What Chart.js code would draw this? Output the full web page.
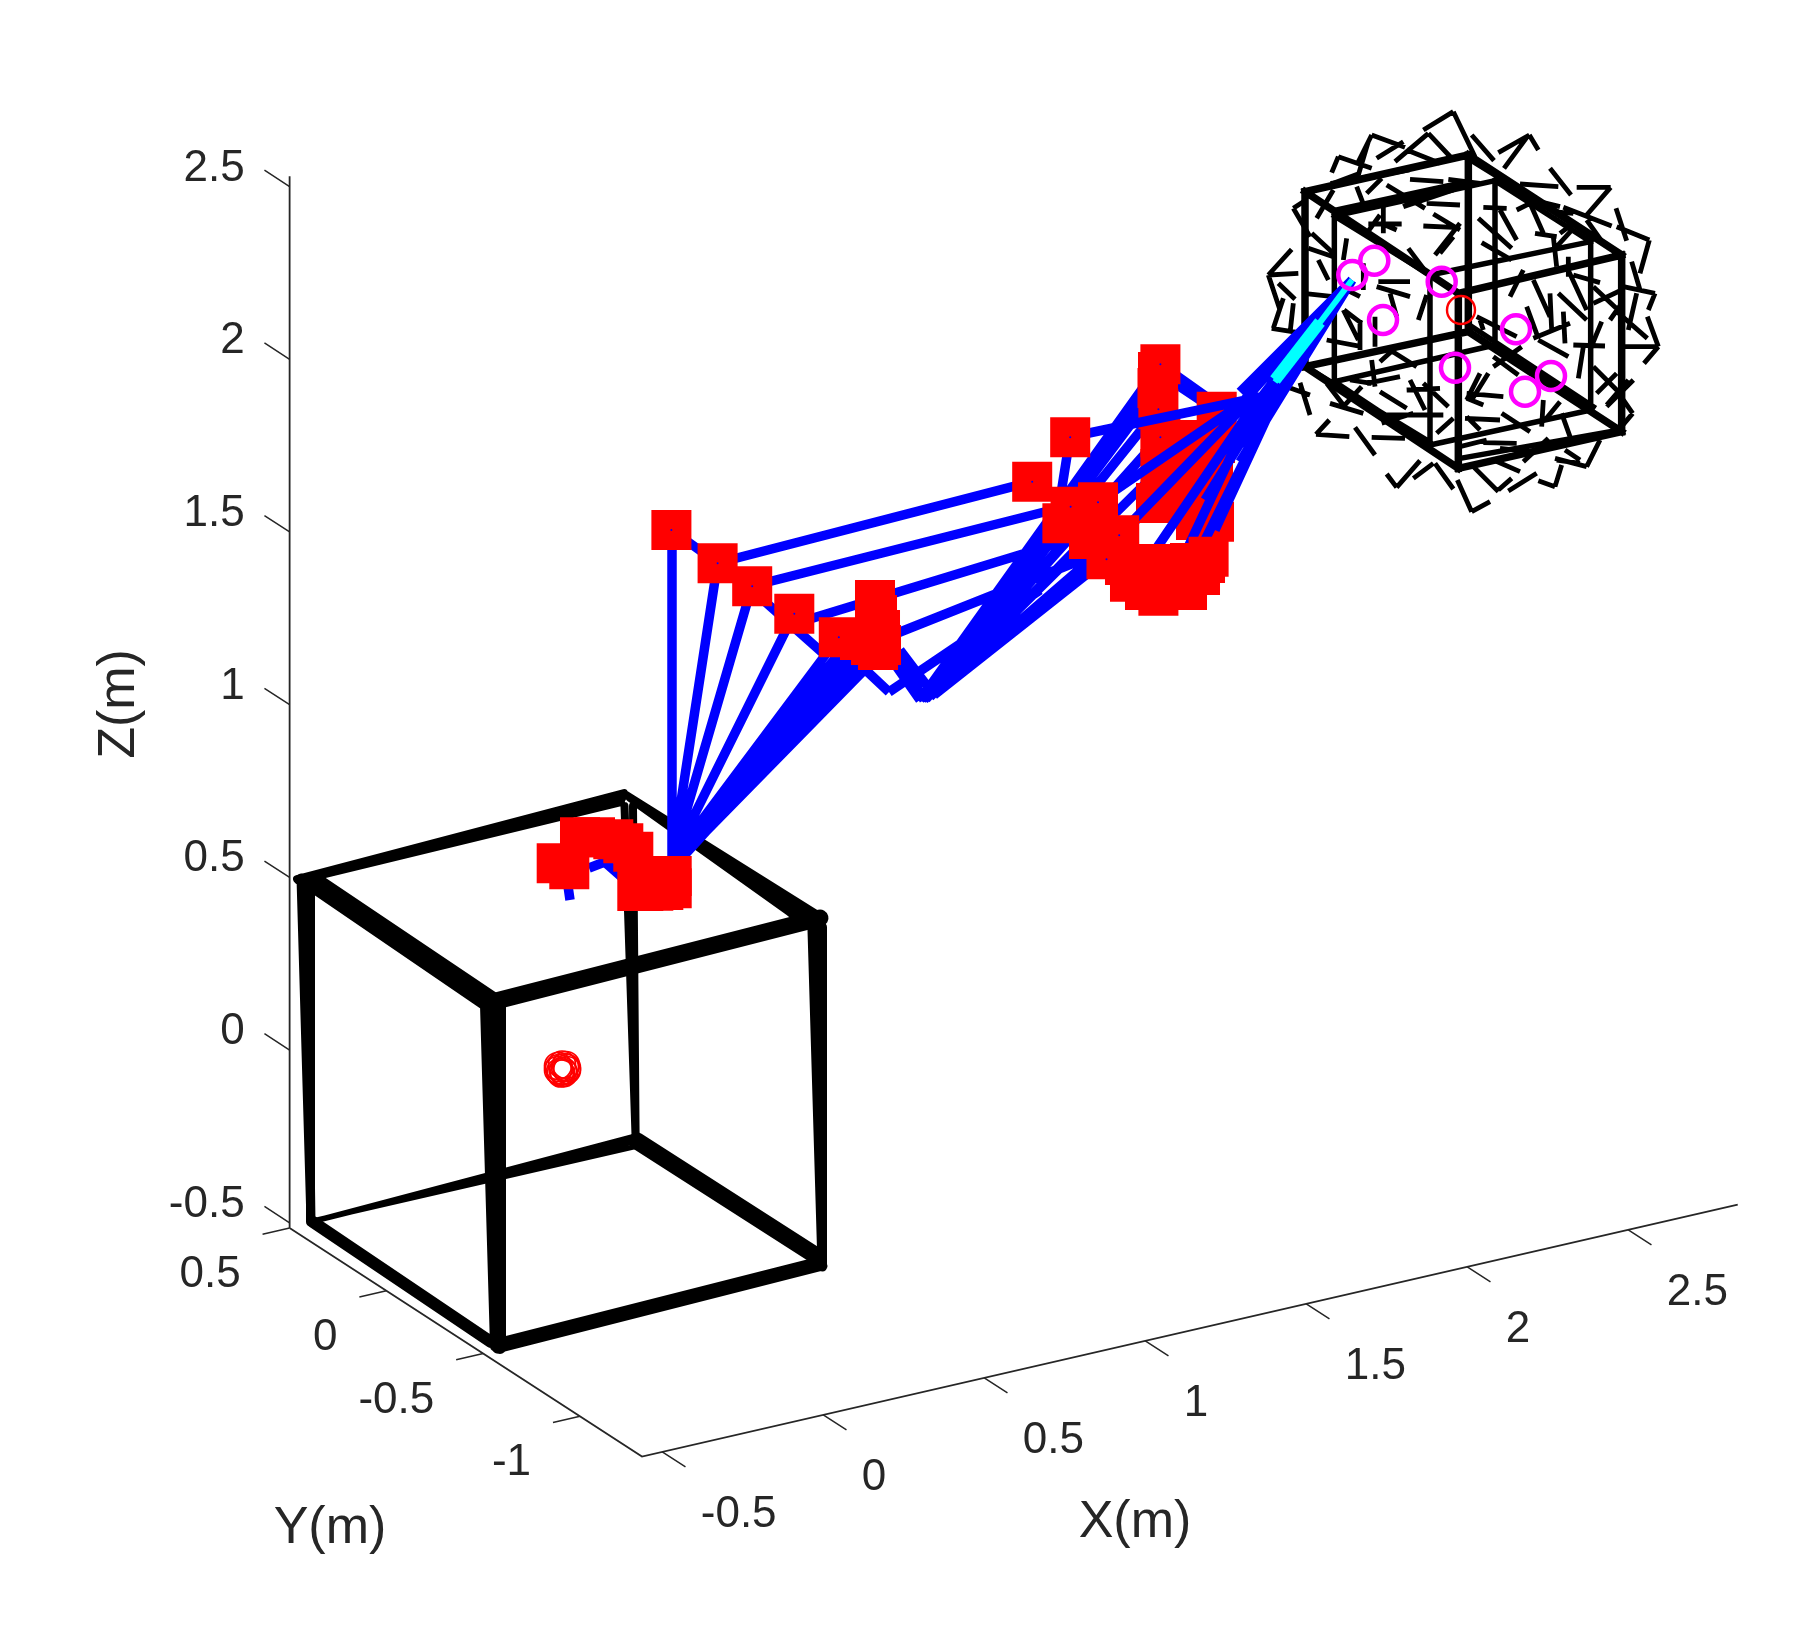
<!DOCTYPE html>
<html><head><meta charset="utf-8">
<style>html,body{margin:0;padding:0;background:#fff}canvas{display:block}</style>
<script src="https://cdn.jsdelivr.net/npm/chart.js@4"></script>
</head><body><canvas id="c" width="1804" height="1628"></canvas>
<script>
// ---- axis content (metres) ----
const xTicks = [-0.5, 0, 0.5, 1, 1.5, 2, 2.5];
const yTicks = [0.5, 0, -0.5, -1];
const zTicks = [-0.5, 0, 0.5, 1, 1.5, 2, 2.5];
const xLim = [-0.563, 2.84], yLim = [-1.32, 0.5], zLim = [-0.515, 2.53];
const xTitle = 'X(m)', yTitle = 'Y(m)', zTitle = 'Z(m)';

// ---- marks as read in the picture plane of the 3-D view: [x1,y1,x2,y2] ----
const cubeW8 = [[297,879,624,793],[300,880,621,802],[298,880,622,798],[624,793.7,816,914],[637,803.6,790,912.6],[790,912.6,815,930],[630,798,803,915],[624.5,806,635.5,1135],[633,806,635.6,1135]];
const cubeW12 = [[318,880,495,999],[303,880,483,1003],[310,880,489,1001],[500,1000,500,1348],[486,1005,496,1346],[493,1003,498,1347],[313,1222,491,1342]];
const cubeW17 = [[490,1002.5,820,918],[637,1141,818,1257]];
const cubeW9 = [[301,878,311,1222],[310.5,878,310.5,1222],[306,878,311,1222],[822.5,927,822.5,1267],[812,930,822,1266],[817,928,822,1266],[815,1262,500,1342],[823,1266,497,1349],[820,1265,497,1346]];
const cubeW5 = [[310,1222,635,1136],[312,1221,638,1146],[311,1222,636,1141]];

const sphereFrameOuter = [[195,305,685,195],[685,195,1145,495],[1145,495,655,610],[655,610,195,305],
  [195,830,685,725],[685,725,1145,1025],[1145,1025,655,1135],[655,1135,195,830],
  [195,305,195,830],[685,195,685,725],[1145,495,1145,1025],[655,610,655,1135]];
const sphereFrameInner = [[283,378,765,272],[765,272,1052,455],[1052,455,570,555],[570,555,283,378],
  [283,875,765,765],[765,765,1052,960],[1052,960,570,1065],[570,1065,283,875],
  [283,378,283,875],[765,272,765,765],[1052,455,1052,960],[570,555,570,1065],
  [280,280,500,240],[290,360,680,275],[700,215,1000,400],[230,850,560,1050],[660,1105,1140,1020],[680,700,1060,950]];
const sphereDashes = [[550,120,640,65],[640,65,705,200],[695,135,762,212],[775,188,868,135],[868,135,895,180],[862,140,792,235],[930,235,993,315],[840,282,955,290],[1010,292,1112,292],[1112,292,1040,375],[970,352,1115,408],[1128,355,1160,452],[1130,410,1228,450],[1228,450,1200,550],[1175,515,1200,600],[1150,590,1245,610],[1245,610,1225,660],[1190,610,1165,720],[1222,680,1255,770],[1255,770,1212,820],[1150,770,1255,770],[1222,745,1125,660],[1165,870,1100,945],[1150,930,1178,970],[1178,970,1140,1015],[1080,1050,1040,1130],[1040,1130,945,1105],[975,1080,1020,1110],[965,1125,945,1190],[945,1190,895,1172],[890,1150,805,1203],[925,1045,850,1115],[775,1205,700,1130],[840,1145,760,1110],[775,1200,815,1165],[750,1235,695,1265],[695,1265,652,1170],[640,1197,585,1120],[580,1120,520,1165],[540,1112,470,1192],[470,1192,440,1152],[405,1095,345,1012],[395,1042,495,1045],[328,1040,228,1033],[228,1033,268,990],[270,940,370,970],[180,878,210,975],[125,885,210,915],[100,715,130,625],[95,715,190,730],[160,640,150,730],[115,580,165,628],[85,555,120,660],[85,555,155,478],[85,555,175,550],[160,355,210,440],[160,355,190,335],[395,135,495,172],[395,135,350,225],[295,200,275,248],[295,200,395,235],[410,205,490,155],[465,215,565,130],[565,130,640,210],[500,180,600,220],
[510,268,610,275],[625,268,720,280],[560,340,660,345],[730,352,800,355],[550,408,640,412],[580,372,660,420],[660,400,585,495],[640,440,600,490],[725,458,815,510],[715,385,815,475],[440,285,555,355],[490,350,560,310],[430,340,430,430],[385,402,485,402],[435,405,470,420],[380,430,420,375],[320,445,310,510],[505,475,550,535],[370,520,370,600],[415,575,510,575],[410,590,510,620],[450,610,470,680],[560,615,535,690],[312,660,365,700],[310,660,355,750],[360,690,360,780],[405,680,405,770],[260,750,365,770],[235,510,265,570],[215,430,280,490],[205,475,280,500],[190,610,280,620],[300,590,360,620],[190,720,245,685],[780,360,830,450],[850,540,810,620],[880,570,930,680],[930,610,935,720],[955,610,1040,690],[980,530,1040,660],[985,500,985,560],[940,440,950,530],[885,430,950,440],[960,430,1000,400],[870,340,910,430],[830,360,870,340],[1000,555,1080,578],[1060,640,1145,600],[1110,690,1145,640],[1060,590,1140,665],[860,650,895,745],[880,745,990,700],[970,665,975,760],[895,750,985,800],[710,680,830,740],[720,690,730,720],[1030,770,1015,865],[1000,765,1095,768],[1085,695,1050,780],[1060,830,1130,900],[1070,910,1130,850],[1100,950,1180,870],[760,830,845,770],[720,850,680,930],[745,850,695,930],[680,910,790,920],[680,925,730,945],[760,800,835,855],[510,870,555,960],[420,905,500,955],[365,890,310,950],[395,810,405,890],[380,880,480,860],[420,815,470,770],[530,830,450,780],[550,880,625,950],[500,900,600,895],[440,975,610,975],[425,1000,520,970],[675,985,780,990],[785,970,870,1025],[720,1020,680,980],[730,1058,830,1060],[780,1075,870,1085],[950,1110,1020,1120],[910,930,905,1010],[960,935,915,990],[965,970,990,1040],[260,880,310,945],[330,870,395,880],[590,1030,640,985],[660,1070,740,1050],[230,385,280,300],[380,310,425,265],[350,290,375,355],[490,350,640,300],[355,255,385,155],[280,280,360,250],[935,365,1000,370],[1040,390,1090,460],[950,470,1000,415],[880,330,960,350]];

const blueLower = [[672,530,672,860],[717.6,563,672,860],[752,586,672,860],[794,614,672,860],[838.8,637,672,860],[850,640,672,860],[860,640,672,860],[870,640,672,860],[878,645,675,860],[882,652,680,858],[860,662,680,860],
[671.4,530,717.6,563],[717.6,563,752,586],[735,575,825,655],[855,660,889,692],[889,692,1040,590],[885,650,920,700],[895,650,924,700],[900,650,934,695],
[920,700,1160,364],[922,700,1158,372],[924,700,1158,388],[924,700,1158,409],[926,699,1160,437],[930,697,1160,469],[934,695,1156,503],[934,695,1098,502],[934,695,1070,507],[934,695,1062,523],[934,695,1085,540],[934,695,1119,535],[934,695,1106,559],[934,695,1058,592],[1058,592,1100,565],
[717.6,563,1032,481.7],[752,586,1064,507],[800,622,1085,535],[885,638,1119,545],[1070,437,1060,500],[1160,364,1225,410],[1158,372,1215,410],
[565,865,570,900],[589,868,615,858],[600,858,625,880],[634,850,652,864]];
const blueUpper = [[1070,437,1280,393],[1098,502,1250,398],[1119,535,1252,398],[1156,549,1250,411],[1175,575,1245,426],[1195,560,1283,383],[1215,530,1283,383],[1240,470,1283,383],[1205,500,1270,395],
[1352,280,1240,392],[1352,280,1240,405],[1352,280,1240,425],[1352,280,1240,445],[1352,280,1240,462],[1352,280,1283,383],[1352,280,1270,395]];
const cyanThin = [[1352,280,1275,382]];
const cyanThick = [[1320,322,1275,380]];

const redSquaresBack = [[1160.4,364.3],[1158,372],[1157.5,388],[1158.4,409.3],[1160.4,437.3],[1160.4,469],[1156,503],[1216.7,411.7],[1215,443],[1213,470],[1213,500],[1214,521.7],[1196,440],[1196,480],[1196,520]];
const redSquaresFront = [[556.7,863.3],[569.3,869.3],[580,837.3],[595,837.3],[613.3,839.3],[623.3,843.3],[633.3,851.7],[637.3,891],[643.3,891],[653.3,890.7],[663.3,890],[671.7,888.3],[671.7,876],[653.3,876],
[671.4,530],[717.6,563.3],[752.2,586.3],[794.3,613.7],[838.8,637.3],[875,600],[877,615],[880,630],[881,645],[878,650],[871,645],[860,640],
[1032.2,481.7],[1070.2,437.3],[1070.6,506.7],[1098,502.3],[1062.4,523.3],[1089,539],[1119.2,535.3],[1106.5,559.3],[1125,565],[1145,565],[1155,564],[1130,581.7],[1145,590],[1158.4,595.7],[1170,580],[1180,578],[1187,590],[1190,563],[1200,575],[1205,563],[1208.6,556.7]];
const squareCentreDots = [[671.4,530],[717.6,563.3],[752.2,586.3],[794.3,613.7],[838.8,637.3],[1032.2,481.7],[1070.2,437.3],[1070.6,506.7],[1098,502.3],[1119.2,535.3],[1106.5,559.3],[1160.4,364.3],[1158.4,409.3],[1160.4,437.3]];
const redRing = [[558,1066],[560,1072],[564,1073],[567,1070],[566,1065],[562,1064.5],[559,1068],[563,1071],[565,1067],[561,1073.5],[558,1070],[567,1068]];
const targetCircles = [[1374.3,260.7],[1352.3,275],[1441.7,281.7],[1383,320],[1516,329.3],[1455,367.7],[1551,376],[1525,391.7]];
const targetCentre = [[1461,310]];

// ---- view of the 3-D axes ----
const project = (X, Y, Z) => ({ x: 567.7 + 322 * X - 193.6 * Y, y: 1071.2 - 74 * X - 125.6 * Y - 345.4 * Z });
const gap = { x: NaN, y: NaN };
const segsToPts = list => list.flatMap(s => [{ x: s[0], y: s[1] }, { x: s[2], y: s[3] }, gap]);
const sphereCrop = s => [1240 + s[0] / 3, 90 + s[1] / 3, 1240 + s[2] / 3, 90 + s[3] / 3];
const toPts = list => list.map(p => ({ x: p[0], y: p[1] }));

const axisPts = [
  project(xLim[0], yLim[1], zLim[1]), project(xLim[0], yLim[1], zLim[0]), gap,
  project(xLim[0], yLim[1], zLim[0]), project(xLim[0], yLim[0], zLim[0]), project(xLim[1], yLim[0], zLim[0])
];
const tickPts = [
  ...xTicks.flatMap(v => [project(v, yLim[0], zLim[0]), project(v, yLim[0] - 0.12, zLim[0]), gap]),
  ...yTicks.flatMap(v => [project(xLim[0], v, zLim[0]), project(xLim[0] - 0.084, v, zLim[0]), gap]),
  ...zTicks.flatMap(v => [project(xLim[0], yLim[1], v), project(xLim[0], yLim[1] + 0.13, v), gap])
];

const line = (data, color, width, cap) => ({ data, borderColor: color, borderWidth: width, borderCapStyle: cap || 'butt', showLine: true, spanGaps: false, pointRadius: 0, tension: 0 });
const pts = (data, style, radius, fill, stroke, bw) => ({ data, showLine: false, pointStyle: style, pointRadius: radius, pointBackgroundColor: fill, pointBorderColor: stroke, pointBorderWidth: bw });

const layers = [
  line(axisPts, '#262626', 1.8),
  line(tickPts, '#262626', 1.5),
  line(segsToPts(cubeW5), '#000', 5, 'round'),
  line(segsToPts(cubeW8), '#000', 8, 'round'),
  line(segsToPts(cubeW9), '#000', 9, 'round'),
  line(segsToPts(cubeW12), '#000', 12, 'round'),
  line(segsToPts(cubeW17), '#000', 17, 'round'),
  pts(toPts(redRing), 'circle', 13.5, 'rgba(0,0,0,0)', '#f00', 1.7),
  line(segsToPts(sphereDashes.map(sphereCrop)), '#000', 4.8),
  line(segsToPts(sphereFrameInner.map(sphereCrop)), '#000', 5.5, 'square'),
  line(segsToPts(sphereFrameOuter.map(sphereCrop)), '#000', 7.5, 'square'),
  line(segsToPts(blueLower), '#00f', 9.5),
  pts(toPts(redSquaresBack), 'rect', 28.3, '#f00', '#f00', 0),
  line(segsToPts(blueUpper), '#00f', 9.5),
  pts(toPts(redSquaresFront), 'rect', 28.3, '#f00', '#f00', 0),
  pts(toPts(squareCentreDots), 'circle', 1, '#00f', '#00f', 0),
  line(segsToPts(cyanThin), '#0ff', 6),
  line(segsToPts(cyanThick), '#0ff', 12),
  pts(toPts(targetCentre), 'circle', 14, 'rgba(0,0,0,0)', '#f00', 2.4),
  pts(toPts(targetCircles), 'circle', 14, 'rgba(0,0,0,0)', '#f0f', 4.5)
];
layers.forEach((d, i) => { d.order = layers.length - i; });

const labelPlugin = {
  id: 'axisText',
  afterDraw(chart) {
    const { ctx, scales: { x: sx, y: sy } } = chart;
    const at = p => ({ x: sx.getPixelForValue(p.x), y: sy.getPixelForValue(p.y) });
    ctx.save();
    ctx.fillStyle = '#262626';
    ctx.textBaseline = 'alphabetic';
    ctx.font = '44px "Liberation Sans"';
    ctx.textAlign = 'left';
    xTicks.forEach(v => { const p = at(project(v, yLim[0], zLim[0])); ctx.fillText(String(v), p.x + 38.5, p.y + 75); });
    ctx.textAlign = 'right';
    yTicks.forEach(v => { const p = at(project(xLim[0], v, zLim[0])); ctx.fillText(String(v), p.x - 49, p.y + 59); });
    zTicks.forEach(v => { const p = at(project(xLim[0], yLim[1], v)); ctx.fillText(String(v), p.x - 45, p.y - 6); });
    ctx.font = '52px "Liberation Sans"';
    ctx.textAlign = 'center';
    ctx.fillText(xTitle, 1135, 1536.5);
    ctx.fillText(yTitle, 330, 1543);
    ctx.translate(134, 704);
    ctx.rotate(-Math.PI / 2);
    ctx.fillText(zTitle, 0, 0);
    ctx.restore();
  }
};

new Chart(document.getElementById('c'), {
  type: 'scatter',
  data: { datasets: layers },
  options: {
    responsive: false, animation: false, devicePixelRatio: 1,
    layout: { padding: 0, autoPadding: false },
    clip: false,
    plugins: { legend: { display: false }, tooltip: { enabled: false } },
    scales: {
      x: { type: 'linear', min: 0, max: 1804, display: false },
      y: { type: 'linear', min: 0, max: 1628, reverse: true, display: false }
    }
  },
  plugins: [labelPlugin]
});
</script></body></html>
